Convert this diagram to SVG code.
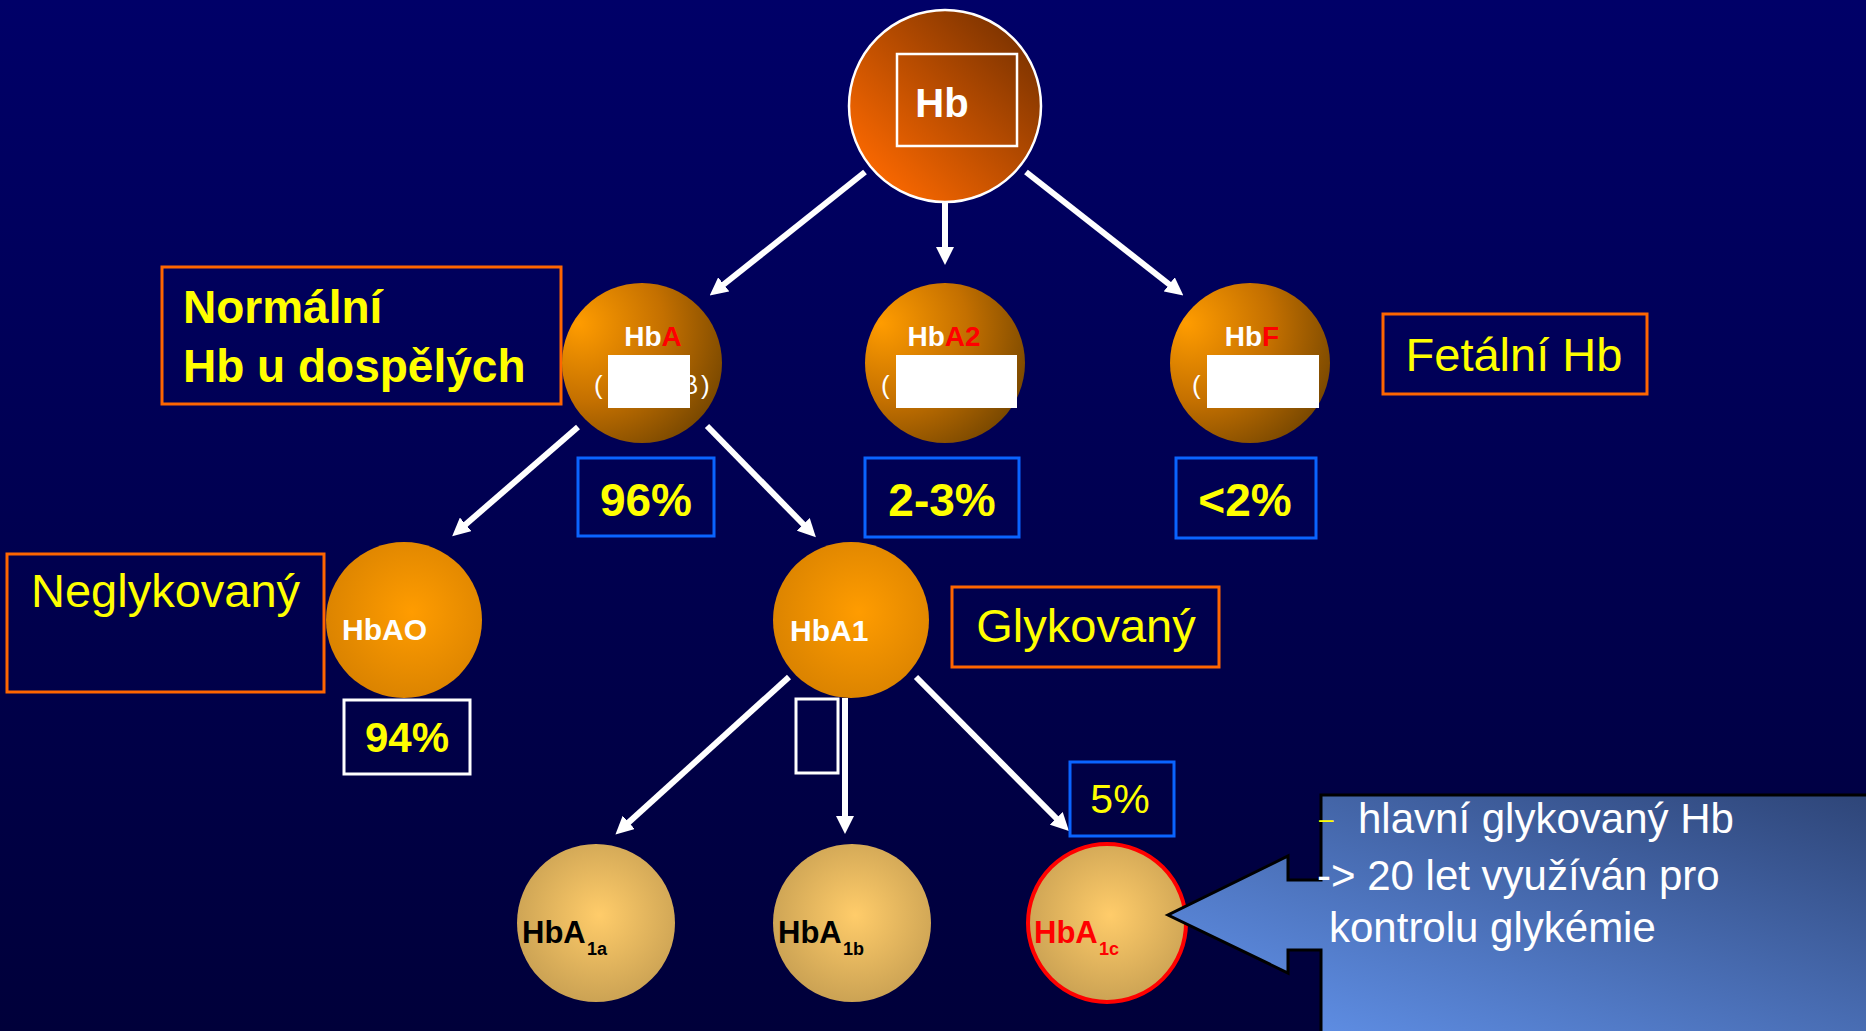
<svg xmlns="http://www.w3.org/2000/svg" width="1866" height="1031" viewBox="0 0 1866 1031">
<defs>
<linearGradient id="bg" x1="0" y1="0" x2="0" y2="1">
<stop offset="0" stop-color="#000068"/>
<stop offset="1" stop-color="#00003a"/>
</linearGradient>
<linearGradient id="gHb" x1="0.1" y1="0.9" x2="0.9" y2="0.1">
<stop offset="0" stop-color="#ff6a00"/>
<stop offset="1" stop-color="#7a3200"/>
</linearGradient>
<radialGradient id="gRow2" cx="0.22" cy="0.28" r="0.95" fx="0.1" fy="0.25">
<stop offset="0" stop-color="#ff9c00"/>
<stop offset="0.5" stop-color="#c47000"/>
<stop offset="1" stop-color="#6a4000"/>
</radialGradient>
<radialGradient id="gRow3" cx="0.55" cy="0.45" r="0.6">
<stop offset="0" stop-color="#ff9c00"/>
<stop offset="1" stop-color="#d98200"/>
</radialGradient>
<radialGradient id="gRow4" cx="0.52" cy="0.45" r="0.6">
<stop offset="0" stop-color="#ffcc6a"/>
<stop offset="1" stop-color="#c79f52"/>
</radialGradient>
<linearGradient id="gCall" x1="0" y1="1" x2="1" y2="0">
<stop offset="0" stop-color="#6496f0"/>
<stop offset="1" stop-color="#2e4578"/>
</linearGradient>
<marker id="ah" markerUnits="userSpaceOnUse" viewBox="0 0 18 18" markerWidth="18" markerHeight="18" refX="1" refY="9" orient="auto">
<path d="M0,0 L18,9 L0,18 Z" fill="#ffffff"/>
</marker>
</defs>
<style>
.ob{fill:none;stroke:#ff6600;stroke-width:3}
.bb{fill:none;stroke:#0a64ff;stroke-width:3}
.yb{font-family:"Liberation Sans",Arial,sans-serif;font-weight:bold;fill:#ffff00}
.yr{font-family:"Liberation Sans",Arial,sans-serif;fill:#ffff00}
.wb{font-family:"Liberation Sans",Arial,sans-serif;font-weight:bold;fill:#ffffff}
.wr{font-family:"Liberation Sans",Arial,sans-serif;fill:#ffffff}
.bk{font-family:"Liberation Sans",Arial,sans-serif;font-weight:bold;fill:#000000}
.red{fill:#ff0000}
.cov{fill:#ffffff}
.conn{stroke:#ffffff;stroke-width:6;fill:none;marker-end:url(#ah)}
</style>
<rect x="0" y="0" width="1866" height="1031" fill="url(#bg)"/>

<g id="connectors">
<path class="conn" d="M865,172 L723,285"/>
<path class="conn" d="M945,202 L945,248"/>
<path class="conn" d="M1026,172 L1170,285"/>
<path class="conn" d="M578,427 L465,525"/>
<path class="conn" d="M707,426 L804,525"/>
<path class="conn" d="M789,677 L628,823"/>
<path class="conn" d="M845,698 L845,817"/>
<path class="conn" d="M916,677 L1057,819"/>
</g>

<g id="node-hb">
<circle cx="945" cy="106" r="96" fill="url(#gHb)" stroke="#ffffff" stroke-width="2.5"/>
<rect x="897" y="54" width="120" height="92" fill="none" stroke="#ffffff" stroke-width="2.5"/>
<text class="wb" x="942" y="117" font-size="40" text-anchor="middle">Hb</text>
</g>

<g id="label-normalni">
<rect class="ob" x="162" y="267" width="399" height="137"/>
<text class="yb" x="183" y="323" font-size="46">Normální</text>
<text class="yb" x="183" y="382" font-size="46">Hb u dospělých</text>
</g>

<g id="node-hba">
<circle cx="642" cy="363" r="80" fill="url(#gRow2)"/>
<text class="wb" x="653" y="346" font-size="28" text-anchor="middle">Hb<tspan class="red">A</tspan></text>
<text class="wr" x="594" y="394" font-size="26">(</text>
<text class="wr" x="683" y="394" font-size="26">β</text>
<text class="wr" x="701" y="394" font-size="26">)</text>
<rect class="cov" x="608" y="355" width="82" height="53"/>
</g>

<g id="node-hba2">
<circle cx="945" cy="363" r="80" fill="url(#gRow2)"/>
<text class="wb" x="944" y="346" font-size="28" text-anchor="middle">Hb<tspan class="red">A2</tspan></text>
<text class="wr" x="881" y="394" font-size="26">(</text>
<rect class="cov" x="896" y="355" width="121" height="53"/>
</g>

<g id="node-hbf">
<circle cx="1250" cy="363" r="80" fill="url(#gRow2)"/>
<text class="wb" x="1252" y="346" font-size="28" text-anchor="middle">Hb<tspan class="red">F</tspan></text>
<text class="wr" x="1192" y="394" font-size="26">(</text>
<rect class="cov" x="1207" y="355" width="112" height="53"/>
</g>

<g id="label-fetalni">
<rect class="ob" x="1383" y="314" width="264" height="80"/>
<text class="yr" x="1514" y="371" font-size="47" text-anchor="middle">Fetální Hb</text>
</g>

<g id="pct-96">
<rect class="bb" x="578" y="458" width="136" height="78"/>
<text class="yb" x="646" y="516" font-size="46" text-anchor="middle">96%</text>
</g>
<g id="pct-2-3">
<rect class="bb" x="865" y="458" width="154" height="79"/>
<text class="yb" x="942" y="516" font-size="46" text-anchor="middle">2-3%</text>
</g>
<g id="pct-lt2">
<rect class="bb" x="1176" y="458" width="140" height="80"/>
<text class="yb" x="1245" y="516" font-size="46" text-anchor="middle">&lt;2%</text>
</g>

<g id="label-neglykovany">
<rect class="ob" x="7" y="554" width="317" height="138"/>
<text class="yr" x="31" y="607" font-size="47">Neglykovaný</text>
</g>

<g id="node-hba0">
<circle cx="404" cy="620" r="78" fill="url(#gRow3)"/>
<text class="wb" x="342" y="640" font-size="30">HbAO</text>
</g>

<g id="pct-94">
<rect x="344" y="700" width="126" height="74" fill="none" stroke="#ffffff" stroke-width="3"/>
<text class="yb" x="407" y="752" font-size="42" text-anchor="middle">94%</text>
</g>

<g id="node-hba1">
<circle cx="851" cy="620" r="78" fill="url(#gRow3)"/>
<text class="wb" x="790" y="641" font-size="30">HbA1</text>
</g>

<g id="label-glykovany">
<rect class="ob" x="952" y="587" width="267" height="80"/>
<text class="yr" x="1086" y="642" font-size="47" text-anchor="middle">Glykovaný</text>
</g>

<g id="empty-box">
<rect x="796" y="699" width="42" height="74" fill="none" stroke="#ffffff" stroke-width="3"/>
</g>

<g id="pct-5">
<rect class="bb" x="1070" y="762" width="104" height="74"/>
<text class="yr" x="1120" y="813" font-size="41" text-anchor="middle">5%</text>
</g>

<g id="node-hba1a">
<circle cx="596" cy="923" r="79" fill="url(#gRow4)"/>
<text class="bk" x="522" y="943" font-size="31">HbA</text>
<text class="bk" x="587" y="955" font-size="18">1a</text>
</g>

<g id="node-hba1b">
<circle cx="852" cy="923" r="79" fill="url(#gRow4)"/>
<text class="bk" x="778" y="943" font-size="31">HbA</text>
<text class="bk" x="843" y="955" font-size="18">1b</text>
</g>

<g id="node-hba1c">
<circle cx="1107" cy="923" r="79" fill="url(#gRow4)" stroke="#ff0000" stroke-width="4"/>
<text class="bk red" x="1034" y="943" font-size="31">HbA</text>
<text class="bk red" x="1099" y="955" font-size="18">1c</text>
</g>

<g id="callout">
<path d="M1321,795 H1870 V1035 H1321 V950 H1288 V973 L1168,915 L1288,856 V880 H1321 Z" fill="url(#gCall)" stroke="#000000" stroke-width="3" stroke-linejoin="miter"/>
<text class="yr" x="1319" y="828" font-size="26">–</text>
<text class="wr" x="1358" y="833" font-size="42">hlavní glykovaný Hb</text>
<text class="wr" x="1317" y="890" font-size="42">-&gt; 20 let využíván pro</text>
<text class="wr" x="1329" y="942" font-size="42">kontrolu glykémie</text>
</g>
</svg>
